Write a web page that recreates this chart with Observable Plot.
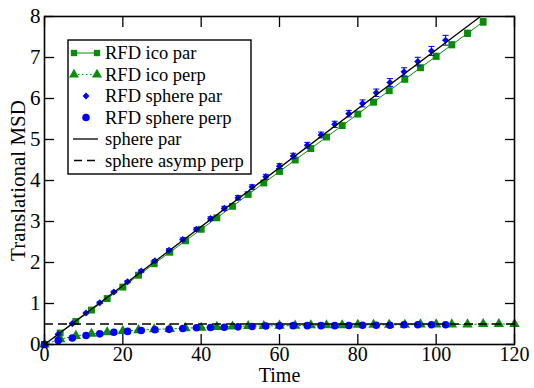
<!DOCTYPE html>
<html><head><meta charset="utf-8">
<script src="https://cdn.jsdelivr.net/npm/d3@7"></script>
<script src="https://cdn.jsdelivr.net/npm/@observablehq/plot@0.6"></script>
<style>body{margin:0;background:#fff;} #chart{width:534px;height:388px;}</style>
</head><body><div id="chart"></div>
<script>
// RFD icosahedron, parallel (green squares)
const icoParTimes = [0,4,8,12,16,20,24,28,32,36,40,44,48,52,56,60,64,68,72,76,80,84,88,92,96,100,104,108,112];
const icoPar = [0,0.28,0.56,0.84,1.12,1.40,1.69,1.97,2.25,2.53,2.81,3.09,3.37,3.66,3.94,4.22,4.50,4.78,5.06,5.34,5.62,5.91,6.19,6.47,6.75,7.03,7.31,7.59,7.87];
const icoParErr = [0,0.005,0.01,0.01,0.015,0.02,0.02,0.025,0.025,0.03,0.03,0.035,0.035,0.04,0.04,0.045,0.045,0.05,0.05,0.055,0.055,0.06,0.06,0.065,0.065,0.07,0.07,0.075,0.08];
// RFD icosahedron, perpendicular (green triangles)
const icoPerpTimes = [0,4,8,12,16,20,24,28,32,36,40,44,48,52,56,60,64,68,72,76,80,84,88,92,96,100,104,108,112,116,120];
const icoPerp = [0,0.13,0.21,0.26,0.30,0.33,0.35,0.37,0.38,0.40,0.41,0.43,0.44,0.45,0.45,0.46,0.46,0.47,0.47,0.47,0.48,0.48,0.48,0.48,0.49,0.49,0.49,0.49,0.50,0.50,0.50];
// RFD sphere (blue)
const sphereTimes = [0,3.5,7.1,10.6,14.1,17.7,21.2,24.7,28.2,31.8,35.3,38.8,42.4,45.9,49.4,53.0,56.5,60.0,63.5,67.1,70.6,74.1,77.7,81.2,84.7,88.2,91.8,95.3,98.8,102.4];
const spherePar = [0,0.25,0.51,0.77,1.02,1.28,1.53,1.79,2.04,2.30,2.56,2.81,3.07,3.32,3.58,3.84,4.09,4.35,4.60,4.86,5.11,5.37,5.63,5.88,6.14,6.39,6.65,6.90,7.16,7.42];
const sphereParErr = [0,0.01,0.01,0.015,0.02,0.02,0.025,0.03,0.03,0.035,0.04,0.04,0.045,0.05,0.05,0.055,0.06,0.06,0.065,0.07,0.07,0.075,0.08,0.085,0.09,0.095,0.10,0.105,0.11,0.12];
const spherePerp = [0,0.10,0.16,0.22,0.26,0.30,0.32,0.34,0.36,0.37,0.39,0.41,0.415,0.42,0.43,0.44,0.45,0.455,0.46,0.46,0.46,0.46,0.465,0.47,0.47,0.47,0.48,0.48,0.48,0.48];
// theory
const sphereParLineTimes = [0,111.3];
const sphereParLine = [0,8];
const sphereAsympPerp = [0.5];
// axes
const xTicks = [0,20,40,60,80,100,120];
const yTicks = [0,1,2,3,4,5,6,7,8];
const legendLabels = ["RFD ico par","RFD ico perp","RFD sphere par","RFD sphere perp","sphere par","sphere asymp perp"];

const green = "#0a8c0a", blue = "#0000ff";
const serif = "Liberation Serif, DejaVu Serif, serif";

const ico = icoParTimes.map((t,i)=>({t, v: icoPar[i], e: icoParErr[i]}));
const icoP = icoPerpTimes.map((t,i)=>({t, v: icoPerp[i]}));
const sph = sphereTimes.map((t,i)=>({t, v: spherePar[i], e: sphereParErr[i], p: spherePerp[i]}));
const theo = sphereParLineTimes.map((t,i)=>({t, v: sphereParLine[i]}));

const cap = {draw(ctx, size){ const w = Math.sqrt(size)/2; ctx.moveTo(-w,0); ctx.lineTo(w,0); }};

const chart = Plot.plot({
  width: 534, height: 388,
  marginLeft: 44, marginRight: 20, marginTop: 16, marginBottom: 44,
  style: {background: "white", color: "black"},
  x: {domain: [0,120]},
  y: {domain: [0,8]},
  marks: [
    Plot.line(ico, {x:"t", y:"v", stroke: green, strokeWidth: 1}),
    Plot.ruleX(ico, {x:"t", y1: d=>d.v-d.e, y2: d=>d.v+d.e, stroke: green, strokeWidth: 1}),
    Plot.dot(ico, {x:"t", y: d=>d.v+d.e, symbol: cap, r: 3.4, stroke: green, strokeWidth: 1}),
    Plot.dot(ico, {x:"t", y: d=>d.v-d.e, symbol: cap, r: 3.4, stroke: green, strokeWidth: 1}),
    Plot.dot(ico, {x:"t", y:"v", symbol:"square", fill: green, stroke: "none", r: 3.9}),
    Plot.line(icoP, {x:"t", y:"v", stroke: green, strokeWidth: 1, strokeDasharray: "1.5,2.5"}),
    Plot.dot(icoP, {x:"t", y:"v", symbol:"triangle", fill: green, stroke: "none", r: 3.9}),
    Plot.ruleX(sph, {x:"t", y1: d=>d.v-d.e, y2: d=>d.v+d.e, stroke: blue, strokeWidth: 1}),
    Plot.dot(sph, {x:"t", y: d=>d.v+d.e, symbol: cap, r: 3.4, stroke: blue, strokeWidth: 1}),
    Plot.dot(sph, {x:"t", y: d=>d.v-d.e, symbol: cap, r: 3.4, stroke: blue, strokeWidth: 1}),
    Plot.dot(sph, {x:"t", y:"v", symbol:"diamond2", fill: blue, stroke: "none", r: 3.2}),
    Plot.dot(sph, {x:"t", y:"p", symbol:"circle", fill: blue, stroke: "none", r: 3.8}),
    Plot.line(theo, {x:"t", y:"v", stroke:"black", strokeWidth: 1.3}),
    Plot.ruleY(sphereAsympPerp, {stroke:"black", strokeWidth: 1.3, strokeDasharray: "9,5"}),
    Plot.frame({stroke:"black", strokeWidth: 1.6}),
    Plot.axisX({anchor:"bottom", ticks: xTicks, tickSize: -10, tickFormat: () => "", label: null, strokeWidth: 1.3}),
    Plot.axisX({anchor:"top", ticks: xTicks, tickSize: -10, tickFormat: () => "", label: null, strokeWidth: 1.3}),
    Plot.axisY({anchor:"left", ticks: yTicks, tickSize: -10, tickFormat: () => "", label: null, strokeWidth: 1.3}),
    Plot.axisY({anchor:"right", ticks: yTicks, tickSize: -10, tickFormat: () => "", label: null, strokeWidth: 1.3}),
    Plot.axisX({anchor:"bottom", ticks: xTicks, tickSize: 0, tickPadding: 2, fontSize: 20, label: null}),
    Plot.axisY({anchor:"left", ticks: yTicks, tickSize: 0, tickPadding: 4, fontSize: 21, label: null}),
    Plot.text(["Time"], {frameAnchor: "bottom", textAnchor: "middle", dy: 37.5, fontSize: 20, fill: "black"}),
    Plot.text(["Translational MSD"], {frameAnchor: "left", textAnchor: "middle", rotate: -90, dx: -26, fontSize: 21, fill: "black"})
  ]
});

// legend
const svg = d3.select(chart);
const g = svg.append("g").attr("font-size", 18.5).attr("text-anchor", "start");
g.append("rect").attr("x", 68).attr("y", 40).attr("width", 183).attr("height", 134)
  .attr("fill", "white").attr("stroke", "black").attr("stroke-width", 1.4);
const rowY = i => 53 + i * 21.5;
const sq = d3.symbol(d3.symbolSquare, 40)(), tri = d3.symbol(d3.symbolTriangle, 44)();
const dia = d3.symbol(d3.symbolDiamond2, 30)(), circ = d3.symbol(d3.symbolCircle, 45)();
// row 0
g.append("line").attr("x1",74).attr("x2",97).attr("y1",rowY(0)).attr("y2",rowY(0)).attr("stroke",green);
[74,97].forEach(x => g.append("path").attr("d", sq).attr("fill", green).attr("transform", `translate(${x},${rowY(0)})`));
// row 1
g.append("line").attr("x1",74).attr("x2",97).attr("y1",rowY(1)).attr("y2",rowY(1)).attr("stroke",green).attr("stroke-dasharray","1.5,2.5");
[74,97].forEach(x => g.append("path").attr("d", tri).attr("fill", green).attr("transform", `translate(${x},${rowY(1)})`));
// row 2
g.append("path").attr("d", dia).attr("fill", blue).attr("transform", `translate(86,${rowY(2)})`);
// row 3
g.append("path").attr("d", circ).attr("fill", blue).attr("transform", `translate(86,${rowY(3)})`);
// row 4
g.append("line").attr("x1",73).attr("x2",98).attr("y1",rowY(4)).attr("y2",rowY(4)).attr("stroke","black").attr("stroke-width",1.3);
// row 5
g.append("line").attr("x1",74).attr("x2",98).attr("y1",rowY(5)).attr("y2",rowY(5)).attr("stroke","black").attr("stroke-width",1.3).attr("stroke-dasharray","8,5");
legendLabels.forEach((s,i) => g.append("text").attr("x", 105).attr("y", rowY(i)).attr("dy","0.35em").attr("text-anchor","start").attr("fill","black").text(s));

// serif everywhere, as inline style on each text element
svg.style("font-family", serif);
svg.selectAll("text").style("font-family", serif);

document.getElementById("chart").appendChild(chart);
</script>
</body></html>
